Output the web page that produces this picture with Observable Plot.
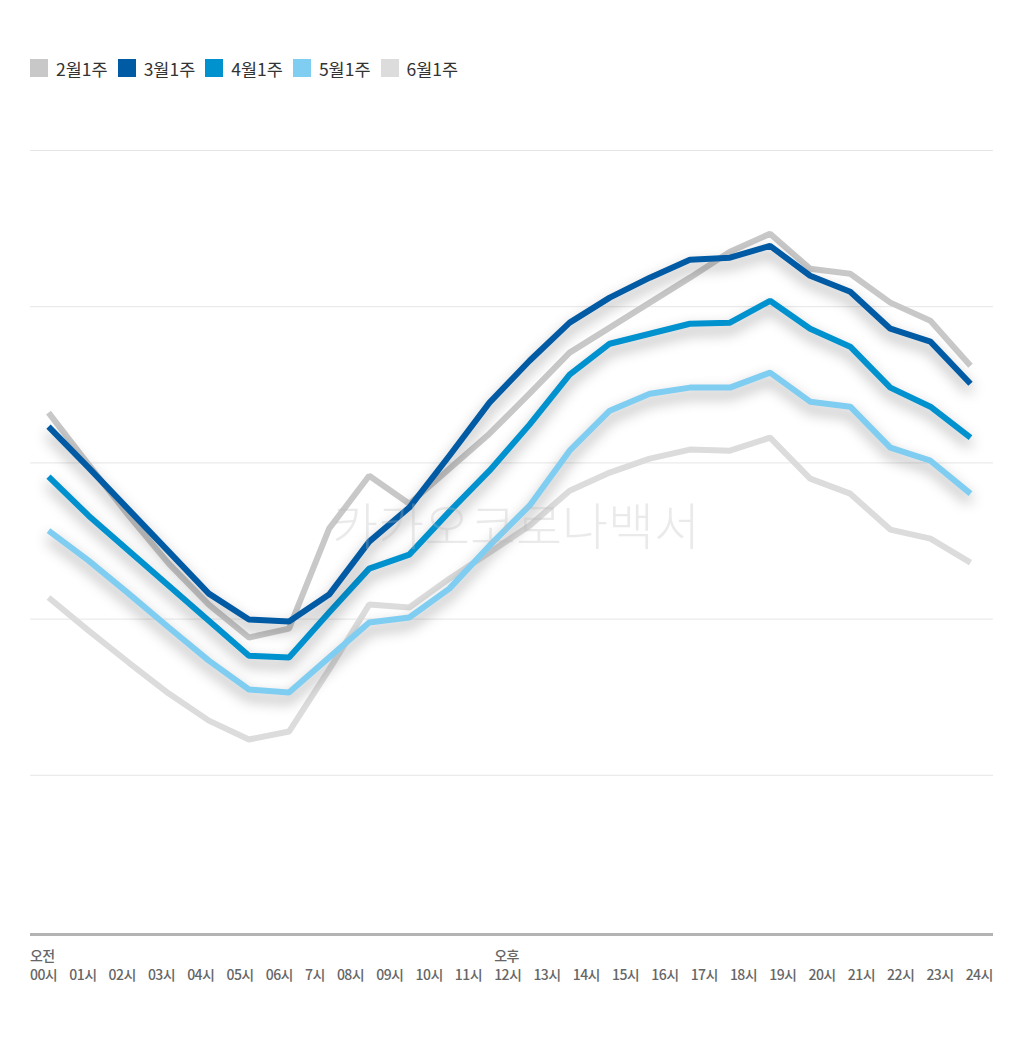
<!DOCTYPE html>
<html>
<head>
<meta charset="utf-8">
<script src="https://cdn.jsdelivr.net/npm/d3@7"></script>
<script src="https://cdn.jsdelivr.net/npm/@observablehq/plot@0.6"></script>
<style>
  body { margin: 0; background: #fff; font-family: "Noto Sans CJK KR", "Noto Sans", sans-serif; }
  #page { position: relative; width: 1024px; height: 1057px; }
  #legend { position: absolute; top: 58px; left: 30px; display: flex; align-items: center; font-size: 17.5px; color: #333; height: 20px; }
  .item { display: flex; align-items: center; margin-right: 10px; }
  .sw { width: 18px; height: 18px; margin-right: 8px; }
  #chart { position: absolute; top: 100px; left: 0; }
  #xlabels { position: absolute; top: 946px; left: 30px; width: 963px; display: flex; justify-content: space-between; font-size: 14px; color: #666; font-weight: 500; letter-spacing: -0.04em; }
  .col { display: flex; flex-direction: column; line-height: 19px; }
</style>
</head>
<body>
<div id="page">
  <div id="legend"></div>
  <div id="chart"></div>
  <div id="xlabels"></div>
</div>
<script>
const seriesNames = ["2월1주", "3월1주", "4월1주", "5월1주", "6월1주"];
const seriesColors = ["#c8c8c8", "#005ba4", "#0091cf", "#80cdf2", "#dcdcdc"];
const hours = [0,1,2,3,4,5,6,7,8,9,10,11,12,13,14,15,16,17,18,19,20,21,22,23];
const feb = [332.2,298.9,266.2,235.5,209.3,188.2,193.9,257.9,291.8,273.9,296.3,318.7,344.3,370.6,386.6,402.6,418.6,435.2,446.7,424.3,421.1,402.6,391.0,362.2];
const mar = [323.2,297.0,270.1,243.2,216.3,199.7,198.4,215.7,249.6,271.4,304.6,338.6,365.4,389.8,405.8,418.6,430.1,431.4,439.0,419.8,409.6,385.9,377.6,350.7];
const apr = [291.2,266.2,243.8,221.4,199.0,176.6,175.4,204.2,232.3,241.3,268.8,295.0,324.5,356.5,376.3,382.7,389.1,389.8,403.8,385.9,374.4,348.2,336.0,316.2];
const may = [256.6,237.4,216.3,194.6,173.4,154.9,153.0,175.4,197.8,201.0,219.5,247.0,272.6,307.8,333.4,344.3,348.2,348.2,357.8,339.2,336.0,309.8,301.4,280.3];
const jun = [213.8,192.6,172.2,152.3,135.0,122.9,128.0,167.7,209.3,207.4,225.9,242.6,259.8,282.2,293.8,302.7,308.5,307.8,316.2,289.9,280.3,257.3,251.5,236.2];
const gridValues = [100, 200, 300, 400, 500];
const tickLabels = ["00시","01시","02시","03시","04시","05시","06시","7시","08시","09시","10시","11시","12시","13시","14시","15시","16시","17시","18시","19시","20시","21시","22시","23시","24시"];
const periodLabels = {0: "오전", 12: "오후"};
const watermark = "카카오코로나백서";

// legend
const legend = document.getElementById("legend");
seriesNames.forEach((n, i) => {
  const it = document.createElement("div");
  it.className = "item";
  it.innerHTML = `<div class="sw" style="background:${seriesColors[i]}"></div><span>${n}</span>`;
  legend.appendChild(it);
});

// x labels
const xl = document.getElementById("xlabels");
tickLabels.forEach((t, i) => {
  const c = document.createElement("div");
  c.className = "col";
  c.innerHTML = `<span>${periodLabels[i] || "&nbsp;"}</span><span>${t}</span>`;
  xl.appendChild(c);
});

const lineOpts = {strokeWidth: 6, strokeLinejoin: "miter", strokeLinecap: "butt"};
const order = [[jun, 4], [feb, 0], [may, 3], [apr, 2], [mar, 1]];

const plot = Plot.plot({
  width: 1024,
  height: 845,
  marginTop: 50,
  marginBottom: 14,
  marginLeft: 30,
  marginRight: 31,
  x: {domain: [0, 23], range: [48, 970], axis: null},
  y: {domain: [0, 500], axis: null},
  marks: [
    Plot.ruleY(gridValues, {stroke: "#e6e6e6", strokeWidth: 1}),
    Plot.ruleY([0], {stroke: "#b3b3b3", strokeWidth: 3, dy: 3}),
    ...order.map(([arr, ci]) => Plot.line(arr, {x: hours, y: arr, stroke: seriesColors[ci], ...lineOpts})),
    Plot.text([watermark], {frameAnchor: "middle", dx: 4, dy: -12, fill: "#bbbbbb", fillOpacity: 0.3, fontSize: 50, fontWeight: 300, fontFamily: "Noto Sans CJK KR"})
  ]
});
document.getElementById("chart").appendChild(plot);

const shadowColors = new Set([seriesColors[1], seriesColors[2], seriesColors[3]]);
plot.querySelectorAll('g[aria-label="line"]').forEach(g => {
  const s = g.getAttribute("stroke");
  if (shadowColors.has(s)) g.style.filter = "drop-shadow(0px 7px 7px rgba(0,0,0,0.36))";
});
</script>
</body>
</html>
